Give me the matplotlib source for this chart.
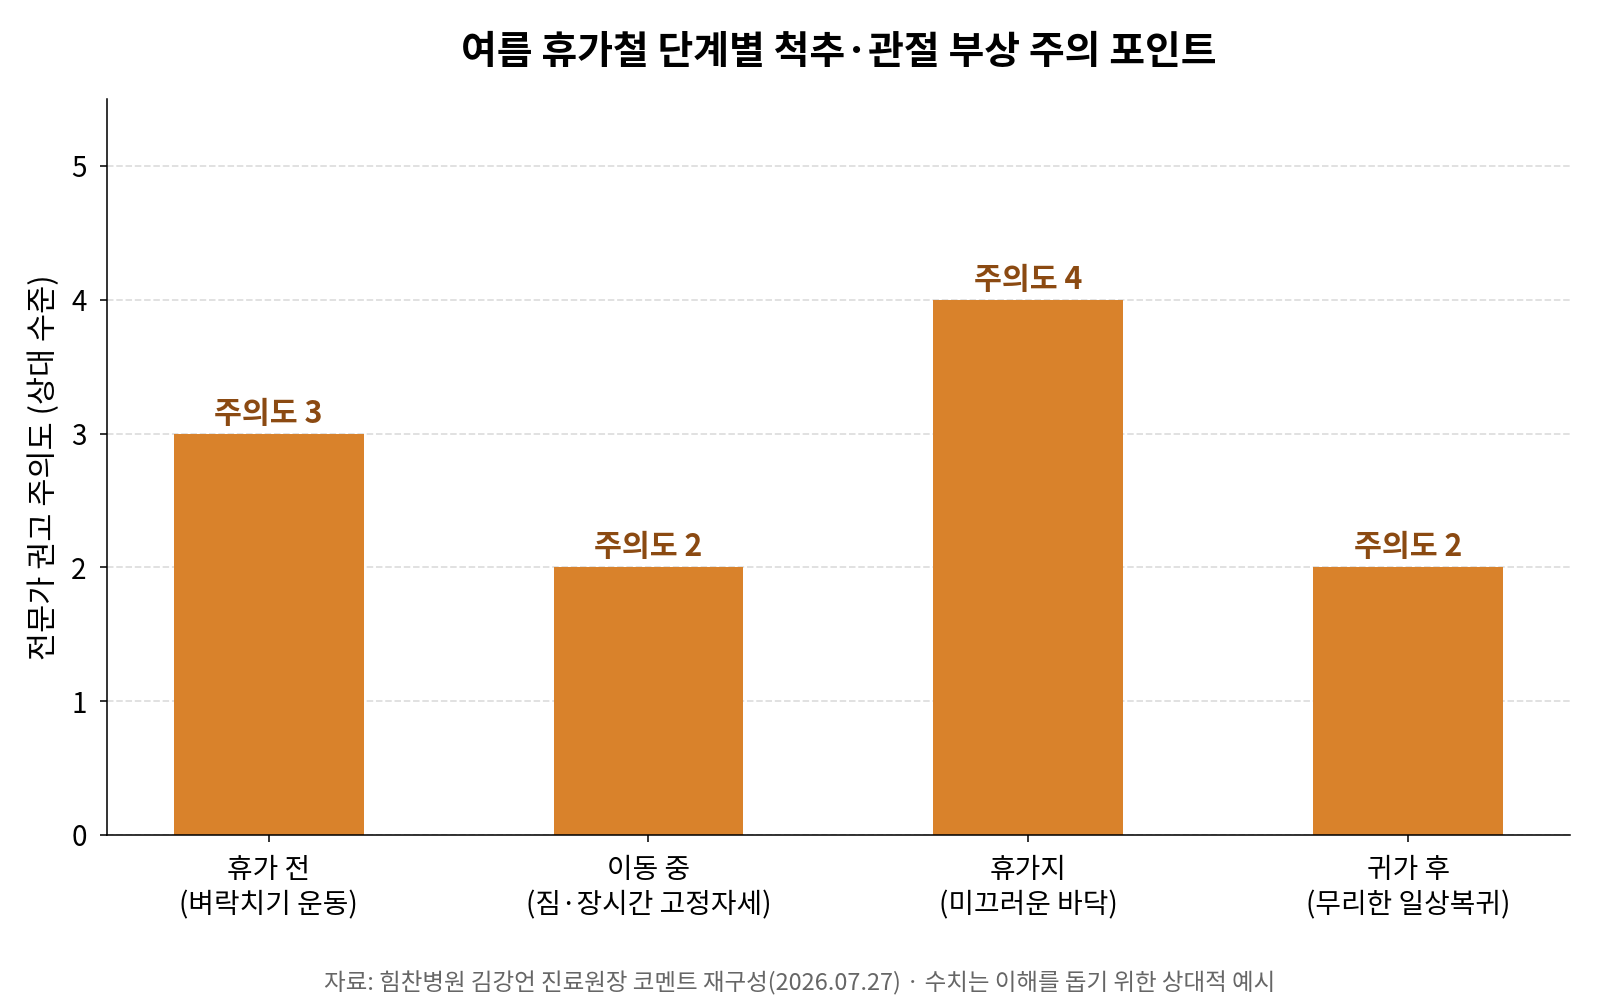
import matplotlib
matplotlib.use("Agg")
import matplotlib.pyplot as plt  # noqa: E402

plt.rcParams["font.family"] = ["Noto Sans CJK KR", "DejaVu Sans"]

stages = ["휴가 전\n(벼락치기 운동)", "이동 중\n(짐·장시간 고정자세)", "휴가지\n(미끄러운 바닥)", "귀가 후\n(무리한 일상복귀)"]
levels = [3, 2, 4, 2]
labels = [f"주의도 {v}" for v in levels]

DPI = 140
fig, ax = plt.subplots(figsize=(1600 / DPI, 1000 / DPI), dpi=DPI)
fig.subplots_adjust(left=0.067, right=0.981, top=0.901, bottom=0.165)

bars = ax.bar(range(len(stages)), levels, width=0.5, color="#D9822B", zorder=2)
for bar, text in zip(bars, labels):
    ax.annotate(text, (bar.get_x() + bar.get_width() / 2, bar.get_height()),
                xytext=(0, 2), textcoords="offset points",
                ha="center", va="bottom", fontsize=15.6, fontweight="bold", color="#8B4A12")

ax.set_xticks(range(len(stages)), stages)
ax.set_ylim(0, 5.5)
ax.set_yticks(range(6))
ax.tick_params(axis="both", labelsize=14.3, pad=7)
ax.set_ylabel("전문가 권고 주의도 (상대 수준)", fontsize=15.7, labelpad=6)
ax.grid(axis="y", linestyle="--", color="#DDDDDD", linewidth=0.9, zorder=0)
ax.spines["top"].set_visible(False)
ax.spines["right"].set_visible(False)
ax.set_title("여름 휴가철 단계별 척추·관절 부상 주의 포인트", fontsize=20, fontweight="bold", pad=18)

fig.text(0.5, 0.017, "자료: 힘찬병원 김강언 진료원장 코멘트 재구성(2026.07.27) · 수치는 이해를 돕기 위한 상대적 예시",
         ha="center", va="center", fontsize=12.1, color="#666666")

fig.savefig("out.png", dpi=DPI)
